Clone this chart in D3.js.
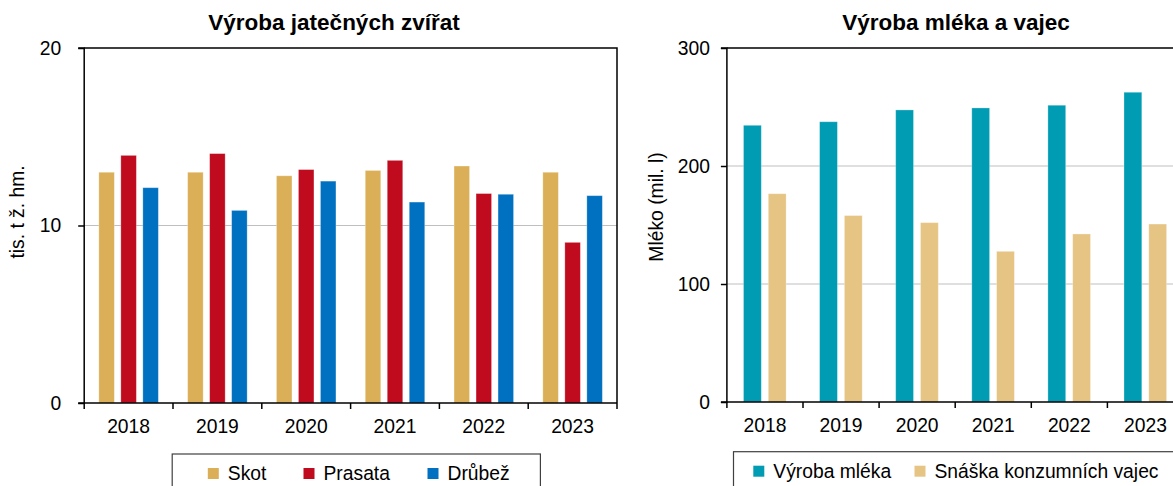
<!DOCTYPE html>
<html><head><meta charset="utf-8">
<script src="https://cdn.jsdelivr.net/npm/d3@7"></script>
<style>
html,body{margin:0;padding:0;background:#fff;overflow:hidden}
svg{display:block;font-family:"Liberation Sans",Arial,sans-serif}
</style></head>
<body><svg id="c" width="1173" height="486"></svg>
<script>
// ---- data ----
const years = ["2018","2019","2020","2021","2022","2023"];
const meatSeries = ["Skot","Prasata","Drůbež"];
const skot    = [13.0, 13.0, 12.8, 13.1, 13.35, 13.0];
const prasata = [13.95, 14.05, 13.15, 13.67, 11.8, 9.05];
const drubez  = [12.13, 10.85, 12.5, 11.32, 11.76, 11.68];
const meatTicks = [0, 10, 20];

const milkSeries = ["Výroba mléka","Snáška konzumních vajec"];
const mleko  = [234.5, 237.5, 247.5, 249.2, 251.5, 262.5];
const vejce  = [176.5, 158, 152, 127.7, 142.4, 150.8];
const milkTicks = [0, 100, 200, 300];

const meatColors = ["#DBAF57","#C00A1E","#0070C0"];
const milkColors = ["#009CB4","#E6C584"];

const svg = d3.select("#c");
const FS = 19.3;

function panel(o){
  const g = svg.append("g");
  const x0 = d3.scaleBand().domain(years).range([o.left, o.left + o.step*years.length]);
  const y = d3.scaleLinear().domain(o.domain).range([o.bottom, o.top]);
  const x1 = d3.scaleBand().domain(o.series).range([o.inOff, o.inOff + o.groupW]).paddingInner(o.pin).paddingOuter(0);
  // gridlines
  g.selectAll(".grid").data(o.ticks.filter(t => t > o.domain[0] && t < o.domain[1]))
    .enter().append("line")
    .attr("x1", o.left).attr("x2", o.left + o.step*years.length)
    .attr("y1", d => y(d)).attr("y2", d => y(d))
    .attr("stroke", "#BFBFBF").attr("stroke-width", 1);
  // bars
  o.values.forEach((vals, si) => {
    g.selectAll(".b"+si).data(vals).enter().append("rect")
      .attr("x", (d,i) => x0(years[i]) + x1(o.series[si]))
      .attr("width", x1.bandwidth())
      .attr("y", d => y(d))
      .attr("height", d => y(0) - y(d))
      .attr("fill", o.colors[si])
      .attr("stroke", "#ffffff").attr("stroke-opacity", 0.35).attr("stroke-width", 0.8);
  });
  // frame top / right
  const right = o.left + o.step*years.length;
  g.append("path").attr("d", `M${o.left},${o.top}H${right}V${o.bottom}`)
    .attr("fill","none").attr("stroke","#000").attr("stroke-width",1.5);
  // y axis
  const ya = d3.axisLeft(y).tickValues(o.ticks).tickSize(6).tickPadding(o.tickPad).tickFormat(d3.format("d"));
  const yg = g.append("g").attr("transform", `translate(${o.left},0)`).call(ya);
  yg.select(".domain").attr("stroke","#000").attr("stroke-width",1.5).attr("d", `M-6,${o.top}H0V${o.bottom}H-6`);
  yg.selectAll(".tick line").attr("stroke","#000").attr("stroke-width",1.5);
  yg.selectAll("text").attr("font-size", FS).attr("fill","#000").attr("font-family","Liberation Sans, Arial, sans-serif");
  // x axis
  const xa = d3.axisBottom(x0).tickSize(0).tickPadding(0);
  const xg = g.append("g").attr("transform", `translate(0,${o.bottom})`).call(xa);
  xg.select(".domain").remove();
  xg.append("line").attr("x1", o.left).attr("x2", right).attr("stroke","#000").attr("stroke-width",1.5);
  const bounds = years.map(yv => x0(yv)).concat([right]);
  xg.selectAll(".xt").data(bounds).enter().append("line")
    .attr("x1", d => d).attr("x2", d => d).attr("y1", 0).attr("y2", 6)
    .attr("stroke","#000").attr("stroke-width",1.5);
  xg.selectAll(".tick text").attr("font-size", FS).attr("fill","#000")
    .attr("font-family","Liberation Sans, Arial, sans-serif")
    .attr("dy", null).attr("y", 30);
  // title
  g.append("text").attr("x", o.titleX).attr("y", 30).attr("text-anchor","middle")
    .attr("font-size", 22.5).attr("font-weight","bold").text(o.title);
  // y label
  g.append("text").attr("transform", `translate(${o.ylabX},${o.ylabY}) rotate(-90)`)
    .attr("text-anchor","middle").attr("font-size", FS).text(o.ylabel);
  // legend
  const lg = g.append("g");
  lg.append("rect").attr("x", o.legX).attr("y", o.legY).attr("width", o.legW).attr("height", 60)
    .attr("fill","#fff").attr("stroke","#404040").attr("stroke-width",1.2);
  o.series.forEach((s, i) => {
    lg.append("rect").attr("x", o.legItems[i]).attr("y", o.legY + 14).attr("width", 11).attr("height", 11)
      .attr("fill", o.colors[i]);
    lg.append("text").attr("x", o.legItems[i] + 20).attr("y", o.legY + 26).attr("font-size", FS).text(s);
  });
}

panel({
  left: 84.2, step: 88.8, top: 48, bottom: 403, domain: [0, 20], ticks: meatTicks,
  series: meatSeries, values: [skot, prasata, drubez], colors: meatColors,
  inOff: 14.65, groupW: 59.5, pin: 0.2955, tickPad: 17,
  title: "Výroba jatečných zvířat", titleX: 334,
  ylabel: "tis. t ž. hm.", ylabX: 24, ylabY: 212,
  legX: 172.2, legY: 454, legW: 368.2, legItems: [207.8, 303.5, 427.5]
});
panel({
  left: 726.9, step: 76.1, top: 48, bottom: 402, domain: [0, 300], ticks: milkTicks,
  series: milkSeries, values: [mleko, vejce], colors: milkColors,
  inOff: 16.6, groupW: 42.6, pin: 0.282, tickPad: 11,
  title: "Výroba mléka a vajec", titleX: 956,
  ylabel: "Mléko (mil. l)", ylabX: 663, ylabY: 207,
  legX: 733.5, legY: 451.7, legW: 460, legItems: [753.3, 914.5]
});
</script></body></html>
